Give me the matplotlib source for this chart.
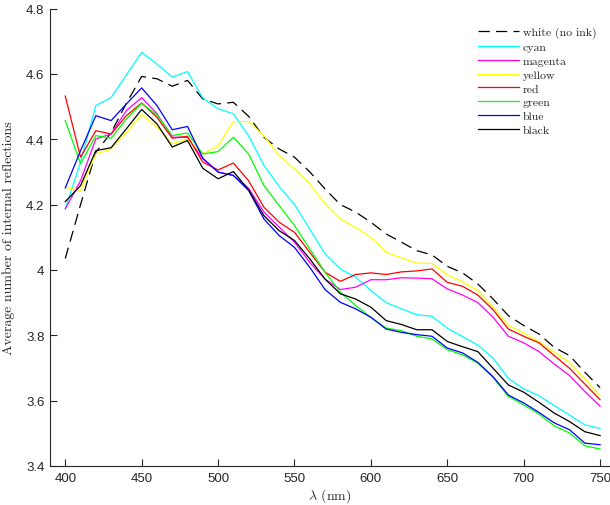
import numpy as np
import matplotlib
matplotlib.use("Agg")
import matplotlib.pyplot as plt

# longueurs d'onde (nm)
wl = np.arange(400, 751, 10)

white = [4.035, 4.20, 4.36, 4.42, 4.51, 4.592, 4.585, 4.562, 4.58, 4.523, 4.508, 4.513,
         4.47, 4.406, 4.37, 4.345, 4.30, 4.248, 4.20, 4.177, 4.146, 4.11, 4.085, 4.059,
         4.046, 4.011, 3.991, 3.957, 3.911, 3.86, 3.83, 3.804, 3.763, 3.738, 3.687, 3.64]
cyan = [4.187, 4.33, 4.503, 4.528, 4.597, 4.666, 4.63, 4.59, 4.607, 4.526, 4.493, 4.478,
        4.41, 4.32, 4.255, 4.20, 4.125, 4.049, 4.003, 3.978, 3.937, 3.90, 3.881, 3.863,
        3.858, 3.822, 3.796, 3.770, 3.73, 3.668, 3.636, 3.615, 3.585, 3.556, 3.526, 3.515]
magenta = [4.187, 4.273, 4.401, 4.416, 4.488, 4.527, 4.478, 4.406, 4.406, 4.34, 4.30, 4.289,
           4.25, 4.177, 4.131, 4.085, 4.023, 3.972, 3.94, 3.947, 3.97, 3.97, 3.976, 3.975,
           3.973, 3.942, 3.923, 3.90, 3.855, 3.797, 3.777, 3.75, 3.712, 3.677, 3.628, 3.583]
yellow = [4.253, 4.243, 4.355, 4.37, 4.42, 4.476, 4.437, 4.386, 4.40, 4.355, 4.38, 4.454,
          4.454, 4.411, 4.35, 4.309, 4.263, 4.202, 4.156, 4.13, 4.10, 4.054, 4.037, 4.021,
          4.02, 3.985, 3.964, 3.937, 3.886, 3.83, 3.807, 3.78, 3.748, 3.717, 3.666, 3.615]
red = [4.532, 4.345, 4.426, 4.416, 4.472, 4.511, 4.467, 4.403, 4.409, 4.33, 4.306, 4.327,
       4.273, 4.192, 4.146, 4.115, 4.054, 3.993, 3.965, 3.986, 3.991, 3.986, 3.994, 3.997,
       4.003, 3.962, 3.95, 3.923, 3.878, 3.819, 3.797, 3.777, 3.738, 3.699, 3.651, 3.603]
green = [4.457, 4.325, 4.411, 4.403, 4.462, 4.51, 4.474, 4.411, 4.419, 4.355, 4.362, 4.406,
         4.355, 4.258, 4.197, 4.136, 4.064, 3.993, 3.932, 3.891, 3.855, 3.822, 3.814, 3.797,
         3.789, 3.756, 3.74, 3.715, 3.671, 3.613, 3.587, 3.559, 3.523, 3.501, 3.462, 3.452]
blue = [4.251, 4.365, 4.472, 4.457, 4.508, 4.557, 4.503, 4.429, 4.439, 4.342, 4.299, 4.289,
        4.243, 4.156, 4.105, 4.069, 4.008, 3.94, 3.901, 3.881, 3.855, 3.819, 3.809, 3.802,
        3.797, 3.761, 3.746, 3.717, 3.673, 3.617, 3.593, 3.564, 3.532, 3.511, 3.47, 3.465]
black = [4.209, 4.258, 4.365, 4.374, 4.432, 4.491, 4.447, 4.376, 4.396, 4.311, 4.279, 4.301,
         4.245, 4.166, 4.12, 4.09, 4.034, 3.972, 3.927, 3.911, 3.886, 3.845, 3.833, 3.817,
         3.817, 3.781, 3.765, 3.75, 3.699, 3.648, 3.626, 3.595, 3.562, 3.536, 3.505, 3.493]

noms = ["cyan", "magenta", "yellow", "red", "green", "blue", "black"]
series = [cyan, magenta, yellow, red, green, blue, black]
couleurs = ["#00ffff", "#ff00ff", "#ffff00", "#ff0000", "#00ff00", "#0000ff", "#000000"]

plt.rcParams["mathtext.fontset"] = "cm"

fig = plt.figure(figsize=(6.10, 5.06), dpi=100)
ax = fig.add_axes([50 / 610, 39 / 506, 560 / 610, 457.5 / 506])

ax.plot(wl, white, color="black", lw=0.9, dashes=(9, 5), label="white (no ink)")
for s, c, n in zip(series, couleurs, noms):
    ax.plot(wl, s, color=c, lw=0.9, label=n)

ax.set_xlim(390, 756.5)
ax.set_ylim(3.4, 4.8)
ax.set_xticks([400, 450, 500, 550, 600, 650, 700, 750])
ax.set_yticks([3.4, 3.6, 3.8, 4.0, 4.2, 4.4, 4.6, 4.8])
ax.set_yticklabels(["3.4", "3.6", "3.8", "4", "4.2", "4.4", "4.6", "4.8"])

for sp in ["top", "right"]:
    ax.spines[sp].set_visible(False)
for sp in ["left", "bottom"]:
    ax.spines[sp].set_color("#262626")
    ax.spines[sp].set_linewidth(0.8)
ax.tick_params(direction="in", length=5, width=0.8, colors="#262626",
               labelsize=9.5, pad=4)
for lab in ax.get_xticklabels() + ax.get_yticklabels():
    lab.set_family("Liberation Sans")

ax.set_xlabel(r"$\lambda$ (nm)", family="cmr10", fontsize=10, color="#262626", labelpad=2)
ax.set_ylabel("Average number of internal reflections", family="cmr10", fontsize=10,
              color="#262626", labelpad=8)

leg = ax.legend(loc="upper right", bbox_to_anchor=(0.995, 0.983), frameon=False,
                prop={"family": "cmr10", "size": 8.5}, handlelength=3.5,
                handletextpad=0.3, labelspacing=0.3)
for t in leg.get_texts():
    t.set_color("#262626")

fig.savefig("out.png", dpi=100)
